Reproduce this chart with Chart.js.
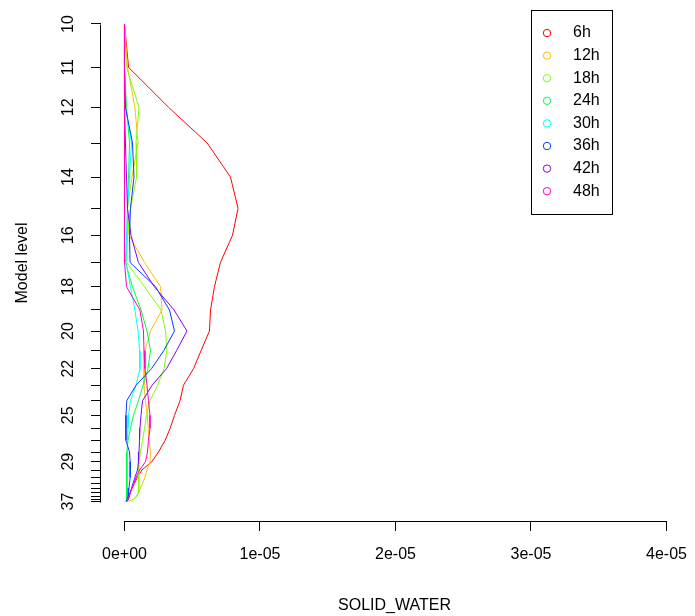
<!DOCTYPE html>
<html><head><meta charset="utf-8">
<script src="https://cdn.jsdelivr.net/npm/chart.js@4.4.1/dist/chart.umd.min.js"></script>
<style>html,body{margin:0;padding:0;background:#fff;}#wrap{width:695px;height:616px;}</style>
</head><body><div id="wrap"><canvas id="c" width="695" height="616"></canvas></div>
<script>
// ---- data ----
const levels = [10,11,12,13,14,15,16,17,18,19,20,21,22,23,24,25,26,27,28,29,30,31,32,33,34,35,36,37];
// vertical position of each model level on the axis (arbitrary height units)
const levelPos = [477.5,434.2,394.2,358.5,324.5,293.2,266.2,239,214.8,191.5,170.5,150.8,132.8,116.2,100.8,86.2,73.2,61.2,49.5,39.8,31.5,24.2,18.2,13.2,9.2,5.5,2.2,0];
const labeledLevels = [10,11,12,14,16,18,20,22,25,29,37];
const xTickValues = [0,1e-5,2e-5,3e-5,4e-5];
const seriesNames = ['6h','12h','18h','24h','30h','36h','42h','48h'];
const seriesColors = ['#FF0000','#FFBF00','#80FF00','#00FF40','#00FFFF','#0040FF','#8000FF','#FF00BF'];

const s6h  = [0,0.30e-6,3.25e-6,6.10e-6,7.82e-6,8.38e-6,7.97e-6,7.08e-6,6.64e-6,6.35e-6,6.27e-6,5.65e-6,5.09e-6,4.35e-6,4.10e-6,3.69e-6,3.37e-6,3.00e-6,2.51e-6,2.01e-6,1.29e-6,0.94e-6,0.74e-6,0.55e-6,0.41e-6,0.33e-6,0.26e-6,0.15e-6];
const s12h = [0,0.22e-6,0.77e-6,1.00e-6,0.55e-6,0.22e-6,0.33e-6,1.48e-6,2.66e-6,2.77e-6,1.92e-6,1.51e-6,1.44e-6,1.44e-6,1.55e-6,1.68e-6,1.75e-6,1.82e-6,1.92e-6,1.88e-6,1.66e-6,1.51e-6,1.33e-6,1.18e-6,1.03e-6,0.89e-6,0.66e-6,0.48e-6];
const s18h = [0,0.15e-6,1.07e-6,0.85e-6,0.89e-6,0.44e-6,0.22e-6,0.15e-6,1.48e-6,2.69e-6,3.03e-6,3.12e-6,2.92e-6,2.44e-6,1.88e-6,1.62e-6,1.48e-6,1.33e-6,1.18e-6,1.07e-6,1.06e-6,1.06e-6,1.05e-6,1.05e-6,1.03e-6,0.92e-6,0.66e-6,0.26e-6];
const s24h = [0,0,0.15e-6,0.37e-6,0.30e-6,0.22e-6,0.18e-6,0.07e-6,0.59e-6,1.22e-6,1.66e-6,1.92e-6,1.73e-6,1.37e-6,1.03e-6,0.66e-6,0.44e-6,0.26e-6,0.17e-6,0.15e-6,0.15e-6,0.15e-6,0.15e-6,0.15e-6,0.15e-6,0.15e-6,0.15e-6,0.10e-6];
const s30h = [0,0,0.07e-6,0.52e-6,0.37e-6,0.22e-6,0.15e-6,0.11e-6,0.44e-6,0.77e-6,1.00e-6,1.11e-6,1.14e-6,0.85e-6,0.44e-6,0.30e-6,0.26e-6,0.22e-6,0.22e-6,0.22e-6,0.22e-6,0.22e-6,0.22e-6,0.22e-6,0.22e-6,0.22e-6,0.22e-6,0.15e-6];
const s36h = [0,0,0.07e-6,0.59e-6,0.70e-6,0.44e-6,0.37e-6,0.41e-6,2.29e-6,3.32e-6,3.69e-6,2.90e-6,1.99e-6,0.85e-6,0.17e-6,0.11e-6,0.11e-6,0.10e-6,0.37e-6,0.42e-6,0.42e-6,0.42e-6,0.37e-6,0.33e-6,0.30e-6,0.26e-6,0.18e-6,0.11e-6];
const s42h = [0,0,0,0.07e-6,0.15e-6,0.22e-6,0.48e-6,1.03e-6,2.20e-6,3.66e-6,4.61e-6,3.84e-6,3.10e-6,2.03e-6,1.33e-6,1.22e-6,1.14e-6,1.11e-6,1.07e-6,1.03e-6,0.96e-6,0.77e-6,0.63e-6,0.52e-6,0.44e-6,0.37e-6,0.30e-6,0.18e-6];
const s48h = [0,0,0,0,0,0,0,0,0.15e-6,1.14e-6,1.40e-6,1.44e-6,1.51e-6,1.66e-6,1.77e-6,1.88e-6,1.88e-6,1.77e-6,1.70e-6,1.55e-6,1.11e-6,0.85e-6,0.70e-6,0.55e-6,0.44e-6,0.33e-6,0.26e-6,0.18e-6];
const seriesValues = [s6h,s12h,s18h,s24h,s30h,s36h,s42h,s48h];

// ---- helpers ----
const FONT = '"Liberation Sans", Arial, Helvetica, sans-serif';
function fmtSci(v){
  if (v === 0) return '0e+00';
  const [m, e] = v.toExponential(0).split('e');
  const n = parseInt(e, 10);
  const sign = n < 0 ? '-' : '+';
  const a = Math.abs(n);
  return m + 'e' + sign + (a < 10 ? '0' + a : String(a));
}

const datasets = seriesNames.map((name, k) => ({
  label: name,
  data: levels.map((lv, i) => ({x: seriesValues[k][i], y: levelPos[i]})),
  borderColor: seriesColors[k],
  backgroundColor: seriesColors[k],
  borderWidth: 1,
  pointRadius: 0,
  pointHoverRadius: 0,
  fill: false,
  tension: 0,
  order: seriesNames.length - 1 - k
}));

const rDecor = {
  id: 'rDecor',
  afterDraw(chart){
    const {ctx, chartArea} = chart;
    const xs = chart.scales.x, ys = chart.scales.y;
    ctx.save();
    ctx.strokeStyle = '#000';
    ctx.lineWidth = 1;
    // x axis line (first to last tick)
    const by = Math.round(chartArea.bottom) + 0.5;
    ctx.beginPath();
    ctx.moveTo(Math.floor(xs.getPixelForValue(xTickValues[0])) + 0.5, by);
    ctx.lineTo(Math.floor(xs.getPixelForValue(xTickValues[xTickValues.length-1])) + 0.5, by);
    ctx.stroke();
    // y axis line (first to last level)
    const lx = Math.round(chartArea.left) - 0.5;
    ctx.beginPath();
    ctx.moveTo(lx, Math.round(ys.getPixelForValue(levelPos[0])) + 0.5);
    ctx.lineTo(lx, Math.round(ys.getPixelForValue(levelPos[levelPos.length-1])) + 0.5);
    ctx.stroke();
    // rotated y tick labels
    ctx.fillStyle = '#000';
    ctx.font = '16px ' + FONT;
    ctx.textAlign = 'center';
    ctx.textBaseline = 'middle';
    labeledLevels.forEach(lv => {
      const i = levels.indexOf(lv);
      const py = ys.getPixelForValue(levelPos[i]);
      ctx.save();
      ctx.translate(chartArea.left - 32, py);
      ctx.rotate(-Math.PI / 2);
      ctx.fillText(String(lv), 0, 0);
      ctx.restore();
    });
    // legend box
    const bx = 531.5, bt = 10.5, bw = 81, bh = 204;
    ctx.strokeRect(bx, bt, bw, bh);
    ctx.textAlign = 'left';
    chart.data.datasets.forEach((ds, k) => {
      const ry = 33 + k * 22.6;
      ctx.beginPath();
      ctx.strokeStyle = ds.borderColor;
      ctx.arc(547, ry, 3.7, 0, Math.PI * 2);
      ctx.stroke();
      ctx.fillStyle = '#000';
      ctx.fillText(ds.label, 573, ry);
    });
    ctx.restore();
  }
};

new Chart(document.getElementById('c'), {
  type: 'line',
  data: { datasets },
  options: {
    responsive: false,
    devicePixelRatio: 1,
    animation: false,
    layout: { padding: { left: 0, right: 7, top: 5, bottom: 0 } },
    plugins: { legend: { display: false }, tooltip: { enabled: false } },
    scales: {
      x: {
        type: 'linear',
        position: 'bottom',
        min: -1.734e-6,
        max: 4.1587e-5,
        afterBuildTicks: s => { s.ticks = xTickValues.map(v => ({ value: v })); },
        afterFit: s => { s.height = 95; s.paddingLeft = 0; s.paddingRight = 0; },
        border: { display: false },
        grid: { drawOnChartArea: false, drawTicks: true, tickLength: 10, color: '#000', lineWidth: 1 },
        ticks: { autoSkip: false, maxRotation: 0, minRotation: 0, padding: 14, color: '#000',
                 font: { family: FONT, size: 16 }, callback: v => fmtSci(v) },
        title: { display: true, text: 'SOLID_WATER', color: '#000', font: { family: FONT, size: 16 },
                 padding: { top: 0, bottom: 1 } }
      },
      y: {
        type: 'linear',
        position: 'left',
        min: -19.5,
        max: 496.5,
        afterBuildTicks: s => { s.ticks = levelPos.map(v => ({ value: v })); },
        afterFit: s => { s.width = 101; },
        border: { display: false },
        grid: { drawOnChartArea: false, drawTicks: true, tickLength: 10, color: '#000', lineWidth: 1 },
        ticks: { display: false },
        title: { display: true, text: 'Model level', color: '#000', font: { family: FONT, size: 16 },
                 padding: { top: 13, bottom: 0 } }
      }
    }
  },
  plugins: [rDecor]
});
</script></body></html>
